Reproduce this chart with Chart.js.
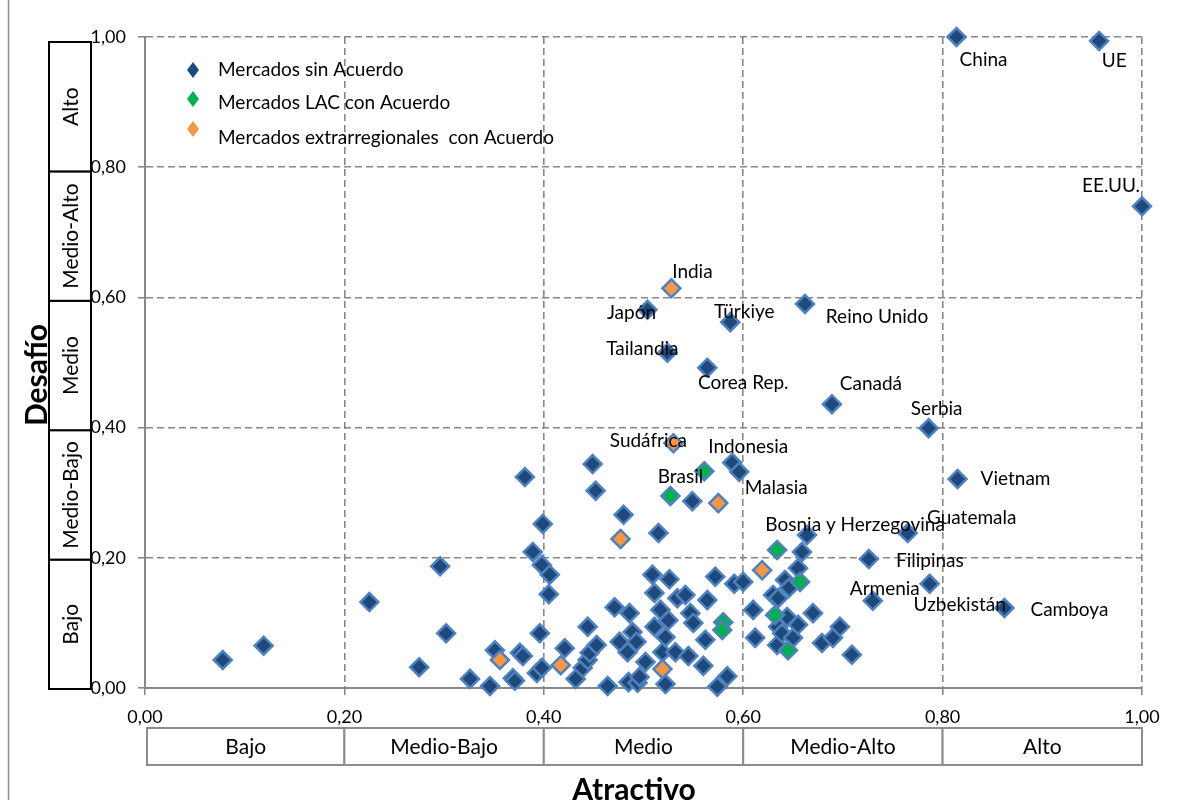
<!DOCTYPE html>
<html>
<head>
<meta charset="utf-8">
<script src="https://cdn.jsdelivr.net/npm/chart.js@4.4.1/dist/chart.umd.min.js"></script>
<style>
  html, body { margin: 0; padding: 0; background: #fff; }
  canvas { display: block; }
</style>
</head>
<body>
<canvas id="matrizChart" width="1178" height="800"></canvas>
<script>
// ejes y categorias
const tickLabels = ['0,00', '0,20', '0,40', '0,60', '0,80', '1,00'];
const levels = ['Bajo', 'Medio-Bajo', 'Medio', 'Medio-Alto', 'Alto'];
const legendNames = ['Mercados sin Acuerdo', 'Mercados LAC con Acuerdo', 'Mercados extrarregionales  con Acuerdo'];

// Mercados sin Acuerdo (los primeros llevan etiqueta)
const sinNames = ['China', 'UE', 'EE.UU.', 'Japón', 'Türkiye', 'Reino Unido', 'Tailandia', 'Corea Rep.',
  'Canadá', 'Serbia', 'Indonesia', 'Malasia', 'Vietnam', 'Guatemala', 'Filipinas', 'Armenia', 'Uzbekistán', 'Camboya'];
const sinX = [0.814, 0.957, 1.000, 0.504, 0.587, 0.662, 0.524, 0.564, 0.689, 0.786, 0.589, 0.596, 0.815, 0.765, 0.726, 0.730, 0.787, 0.862,
  0.078, 0.119, 0.225, 0.275, 0.296, 0.302, 0.326, 0.346, 0.351, 0.376, 0.379, 0.369, 0.371, 0.381, 0.389, 0.398, 0.406, 0.399,
  0.405, 0.396, 0.393, 0.398, 0.421, 0.432, 0.439, 0.444, 0.446, 0.444, 0.453, 0.449, 0.452, 0.464, 0.471, 0.476, 0.480, 0.484,
  0.485, 0.486, 0.489, 0.493, 0.494, 0.496, 0.502, 0.509, 0.511, 0.511, 0.515, 0.517, 0.519, 0.522, 0.522, 0.525, 0.526, 0.532,
  0.534, 0.542, 0.545, 0.547, 0.549, 0.550, 0.560, 0.562, 0.564, 0.572, 0.574, 0.584, 0.591, 0.600, 0.610, 0.612, 0.630, 0.634,
  0.635, 0.635, 0.639, 0.642, 0.644, 0.646, 0.650, 0.655, 0.655, 0.659, 0.664, 0.670, 0.679, 0.690, 0.697, 0.709];
const sinY = [1.000, 0.994, 0.740, 0.581, 0.562, 0.590, 0.515, 0.492, 0.436, 0.399, 0.346, 0.332, 0.321, 0.238, 0.198, 0.134, 0.160, 0.123,
  0.043, 0.065, 0.132, 0.032, 0.187, 0.084, 0.014, 0.003, 0.058, 0.054, 0.049, 0.015, 0.011, 0.324, 0.209, 0.189, 0.174, 0.252,
  0.144, 0.084, 0.023, 0.031, 0.061, 0.014, 0.031, 0.043, 0.054, 0.094, 0.066, 0.344, 0.303, 0.003, 0.124, 0.071, 0.266, 0.055,
  0.009, 0.115, 0.086, 0.071, 0.008, 0.017, 0.040, 0.174, 0.146, 0.094, 0.238, 0.120, 0.055, 0.078, 0.006, 0.104, 0.167, 0.055,
  0.138, 0.143, 0.049, 0.115, 0.287, 0.100, 0.034, 0.074, 0.135, 0.171, 0.002, 0.018, 0.160, 0.163, 0.120, 0.077, 0.143, 0.066,
  0.138, 0.094, 0.084, 0.166, 0.109, 0.154, 0.077, 0.184, 0.097, 0.209, 0.235, 0.115, 0.069, 0.077, 0.094, 0.051];

// Mercados LAC con Acuerdo
const lacNames = ['Brasil', 'Bosnia y Herzegovina'];
const lacX = [0.527, 0.634, 0.561, 0.657, 0.632, 0.580, 0.579, 0.645];
const lacY = [0.295, 0.212, 0.333, 0.163, 0.112, 0.101, 0.089, 0.058];

// Mercados extrarregionales con Acuerdo
const extNames = ['India', 'Sudáfrica'];
const extX = [0.528, 0.530, 0.575, 0.477, 0.619, 0.356, 0.417, 0.519];
const extY = [0.614, 0.376, 0.284, 0.229, 0.181, 0.043, 0.035, 0.029];

// donde va cada etiqueta respecto a su punto (px)
const labelOffsets = {
  'China': [27, 23], 'UE': [15, 20], 'EE.UU.': [-31, -20], 'India': [21, -16], 'Japón': [-16, 3],
  'Türkiye': [14, -10], 'Reino Unido': [72, 13], 'Tailandia': [-25, -4], 'Corea Rep.': [36, 15],
  'Canadá': [39, -20], 'Serbia': [8, -19], 'Sudáfrica': [-25, -2], 'Indonesia': [16, -16],
  'Brasil': [10, -19], 'Malasia': [37, 16], 'Bosnia y Herzegovina': [78, -25], 'Guatemala': [64, -15],
  'Filipinas': [61, 2], 'Armenia': [12, -12], 'Uzbekistán': [30, 21], 'Camboya': [65, 2], 'Vietnam': [58, 0]
};

const colors = ['#1f497d', '#00b050', '#f79646'];
const series = [
  { names: sinNames, x: sinX, y: sinY },
  { names: lacNames, x: lacX, y: lacY },
  { names: extNames, x: extX, y: extY }
];

Chart.defaults.font.family = 'Lato';

const toPoints = (xs, ys) => xs.map((v, i) => ({ x: v, y: ys[i] }));
const pointStyle = {
  pointStyle: 'rectRot',
  pointRadius: 9,
  pointHoverRadius: 9,
  borderWidth: 2.5,
  borderColor: '#4f81bd',
  clip: false
};

const extras = {
  id: 'extras',
  afterDatasetsDraw(chart) {
    const { ctx, scales: { x, y } } = chart;
    ctx.save();
    ctx.font = '19px Lato';
    ctx.fillStyle = '#000';
    ctx.textAlign = 'center';
    ctx.textBaseline = 'middle';
    series.forEach(s => {
      s.names.forEach((name, i) => {
        const off = labelOffsets[name];
        ctx.fillText(name, x.getPixelForValue(s.x[i]) + off[0], y.getPixelForValue(s.y[i]) + off[1]);
      });
    });

    // leyenda
    const lx = chart.chartArea.left + 48;
    const rows = [[70, 70], [99, 103], [129, 138]];
    legendNames.forEach((name, i) => {
      const cy = rows[i][0];
      ctx.fillStyle = colors[i];
      ctx.beginPath();
      ctx.moveTo(lx, cy - 8);
      ctx.lineTo(lx + 6, cy);
      ctx.lineTo(lx, cy + 8);
      ctx.lineTo(lx - 6, cy);
      ctx.closePath();
      ctx.fill();
      ctx.fillStyle = '#000';
      ctx.textAlign = 'left';
      ctx.fillText(name, lx + 25, rows[i][1]);
    });
    ctx.restore();
  },
  afterDraw(chart) {
    const { ctx, scales: { x, y } } = chart;
    ctx.save();
    // marco exterior
    ctx.strokeStyle = '#8c8c8c';
    ctx.lineWidth = 1.5;
    ctx.beginPath();
    ctx.moveTo(8.5, 0);
    ctx.lineTo(8.5, 800);
    ctx.stroke();

    ctx.font = '21px Lato';
    ctx.textAlign = 'center';
    ctx.textBaseline = 'middle';
    levels.forEach((lv, i) => {
      // cajas del eje Y
      const v0 = i * 0.2, v1 = (i + 1) * 0.2;
      const top = y.getPixelForValue(v1) + 1 + 4 * v1;
      const bot = y.getPixelForValue(v0) + 1 + 4 * v0;
      ctx.fillStyle = '#fff';
      ctx.fillRect(49, top, 42, bot - top);
      ctx.strokeStyle = '#000';
      ctx.lineWidth = 2;
      ctx.strokeRect(49, top, 42, bot - top);
      ctx.save();
      ctx.translate(71, (top + bot) / 2);
      ctx.rotate(-Math.PI / 2);
      ctx.fillStyle = '#000';
      ctx.fillText(lv, 0, 0);
      ctx.restore();

      // cajas del eje X
      const left = Math.max(x.getPixelForValue(v0), x.left + 2);
      const right = x.getPixelForValue(v1);
      ctx.fillStyle = '#fff';
      ctx.fillRect(left, 728, right - left, 37);
      ctx.strokeStyle = '#8c8c8c';
      ctx.strokeRect(left, 728, right - left, 37);
      ctx.fillStyle = '#000';
      ctx.fillText(lv, (left + right) / 2, 747);
    });

    // titulos
    ctx.font = 'bold 30px Lato';
    ctx.textBaseline = 'alphabetic';
    ctx.fillText('Atractivo', 634, 800);
    ctx.save();
    ctx.translate(47, 375);
    ctx.rotate(-Math.PI / 2);
    ctx.fillText('Desafío', 0, 0);
    ctx.restore();
    ctx.restore();
  }
};

const axisCommon = {
  type: 'linear',
  min: 0,
  max: 1,
  ticks: {
    stepSize: 0.2,
    color: '#000',
    font: { size: 18 },
    callback: (v, i) => tickLabels[i]
  },
  grid: {
    color: '#888',
    lineWidth: 1.6,
    tickLength: 7,
    tickColor: '#888',
    tickWidth: 1.6,
    tickBorderDash: []
  },
  border: { color: '#888', width: 2, dash: [7, 4] }
};

new Chart(document.getElementById('matrizChart'), {
  type: 'scatter',
  data: {
    datasets: [
      { label: legendNames[0], data: toPoints(sinX, sinY), backgroundColor: colors[0], order: 3, ...pointStyle },
      { label: legendNames[1], data: toPoints(lacX, lacY), backgroundColor: colors[1], order: 1, ...pointStyle },
      { label: legendNames[2], data: toPoints(extX, extY), backgroundColor: colors[2], order: 2, ...pointStyle }
    ]
  },
  options: {
    responsive: false,
    animation: false,
    layout: { padding: { left: 0, right: 36, top: 37, bottom: 0 } },
    plugins: { legend: { display: false }, tooltip: { enabled: false } },
    scales: {
      x: {
        ...axisCommon,
        ticks: { ...axisCommon.ticks, padding: 11, maxRotation: 0 },
        afterFit: s => { s.height = 112; }
      },
      y: {
        ...axisCommon,
        ticks: { ...axisCommon.ticks, padding: 12 },
        afterFit: s => { s.width = 145; }
      }
    }
  },
  plugins: [extras]
});
</script>
</body>
</html>
